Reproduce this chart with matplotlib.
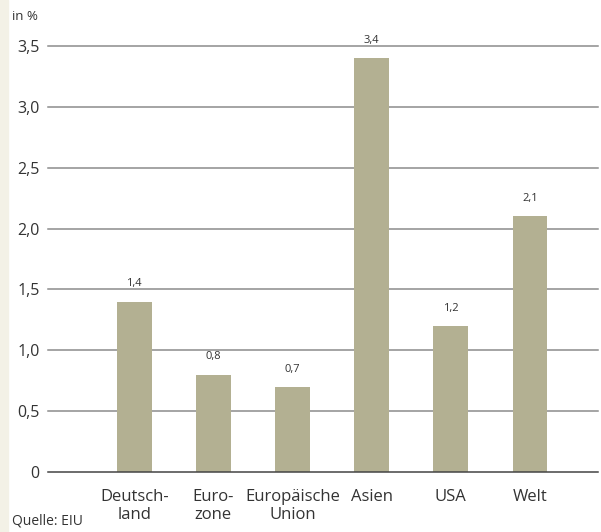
import numpy as np
import matplotlib.pyplot as plt
from matplotlib.patches import Rectangle

plt.rcParams['font.family'] = ['Open Sans', 'DejaVu Sans']

categories = ["Deutsch-\nland", "Euro-\nzone", "Europäische\nUnion", "Asien", "USA", "Welt"]
values = [1.4, 0.8, 0.7, 3.4, 1.2, 2.1]
value_labels = ["1,4", "0,8", "0,7", "3,4", "1,2", "2,1"]
yticks = [0, 0.5, 1.0, 1.5, 2.0, 2.5, 3.0, 3.5]
ytick_labels = ["0", "0,5", "1,0", "1,5", "2,0", "2,5", "3,0", "3,5"]

text_color = "#333333"
bar_color = "#b3b092"
grid_color = "#8c8c8c"

fig = plt.figure(figsize=(6.01, 5.32), dpi=100)
fig.patches.append(Rectangle((0, 0), 8 / 601, 1, transform=fig.transFigure,
                             color="#f3f1e6", zorder=0))

# axes: x 48..598 px, y 46..472 px (from top)
ax = fig.add_axes([48 / 601, (532 - 472) / 532, 550 / 601, 426 / 532])
x = np.arange(len(categories))
ax.bar(x, values, width=0.44, color=bar_color, zorder=3)
ax.set_xlim(-1.09, 5 + 0.86)
ax.set_ylim(0, 3.5)

for yv in yticks:
    ax.axhline(yv, color=grid_color if yv > 0 else "#444444", lw=1.1,
               zorder=1 if yv > 0 else 4, clip_on=False)

for xi, v, lab in zip(x, values, value_labels):
    ax.text(xi, v + 0.1, lab, ha="center", va="bottom", fontsize=8, color=text_color)

ax.set_yticks(yticks)
ax.set_yticklabels(ytick_labels, fontsize=11.5, color=text_color)
ax.set_xticks(x)
ax.set_xticklabels(categories, fontsize=12, color=text_color, linespacing=1.2)
ax.tick_params(axis="both", length=0)
ax.tick_params(axis="y", pad=6)
ax.tick_params(axis="x", pad=12)
for s in ax.spines.values():
    s.set_visible(False)

fig.text(12 / 601, 1 - 17 / 532, "in %", fontsize=9.5, color=text_color, va="center")
fig.text(12 / 601, 1 - 521 / 532, "Quelle: EIU", fontsize=10, color=text_color, va="center")

fig.savefig("out.png", dpi=100)
